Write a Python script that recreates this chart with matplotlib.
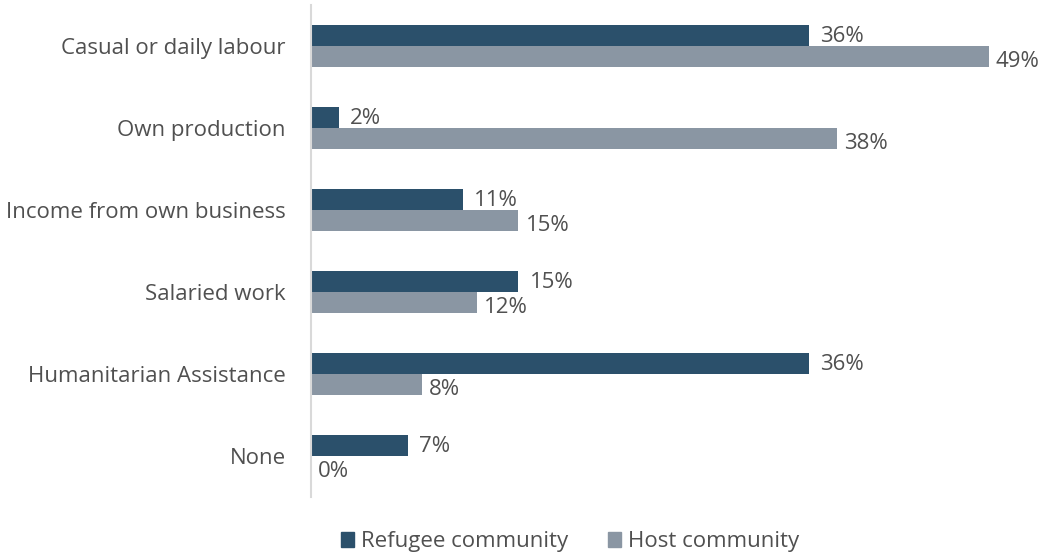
import matplotlib.pyplot as plt
import numpy as np
from matplotlib.patches import Patch

categories = [
    "Casual or daily labour",
    "Own production",
    "Income from own business",
    "Salaried work",
    "Humanitarian Assistance",
    "None",
]
refugee = [36, 2, 11, 15, 36, 7]
host = [49, 38, 15, 12, 8, 0]

REFUGEE_COLOR = "#2b506b"
HOST_COLOR = "#8a96a3"
TEXT_COLOR = "#505050"

plt.rcParams["font.family"] = ["Open Sans", "DejaVu Sans"]

fig = plt.figure(figsize=(10.46, 5.54), dpi=100)
ax = fig.add_axes([0.2973, 0.1029, 0.66, 0.8881])

y = np.arange(len(categories))
h = 0.262
ax.barh(y - h / 2, refugee, height=h, color=REFUGEE_COLOR)
ax.barh(y + h / 2, host, height=h, color=HOST_COLOR)

for yi, v in zip(y, refugee):
    ax.annotate(f"{v}%", (v, yi - h / 2 + 0.01), xytext=(8, 0), textcoords="offset points",
                ha="left", va="center", fontsize=16, color=TEXT_COLOR)
for yi, v in zip(y, host):
    ax.annotate(f"{v}%", (v, yi + h / 2 + 0.06), xytext=(5, 0), textcoords="offset points",
                ha="left", va="center", fontsize=16, color=TEXT_COLOR)

ax.set_ylim(len(categories) - 0.5, -0.5)
ax.set_xlim(0, 49.9)
ax.set_yticks(y)
ax.set_yticklabels(categories, fontsize=16, color=TEXT_COLOR)
ax.tick_params(axis="y", length=0, pad=18)
ax.set_xticks([])
for side in ["top", "right", "bottom"]:
    ax.spines[side].set_visible(False)
ax.spines["left"].set_color("#d9d9d9")
ax.spines["left"].set_linewidth(1.5)

handles = [Patch(color=REFUGEE_COLOR), Patch(color=HOST_COLOR)]
fig.legend(handles, ["Refugee community", "Host community"], loc="center",
           bbox_to_anchor=(0.545, 0.022), ncol=2, frameon=False, fontsize=16,
           labelcolor=TEXT_COLOR, handlelength=0.6, handleheight=0.6,
           handletextpad=0.3, columnspacing=1.8)

fig.savefig("out.png", dpi=100)
